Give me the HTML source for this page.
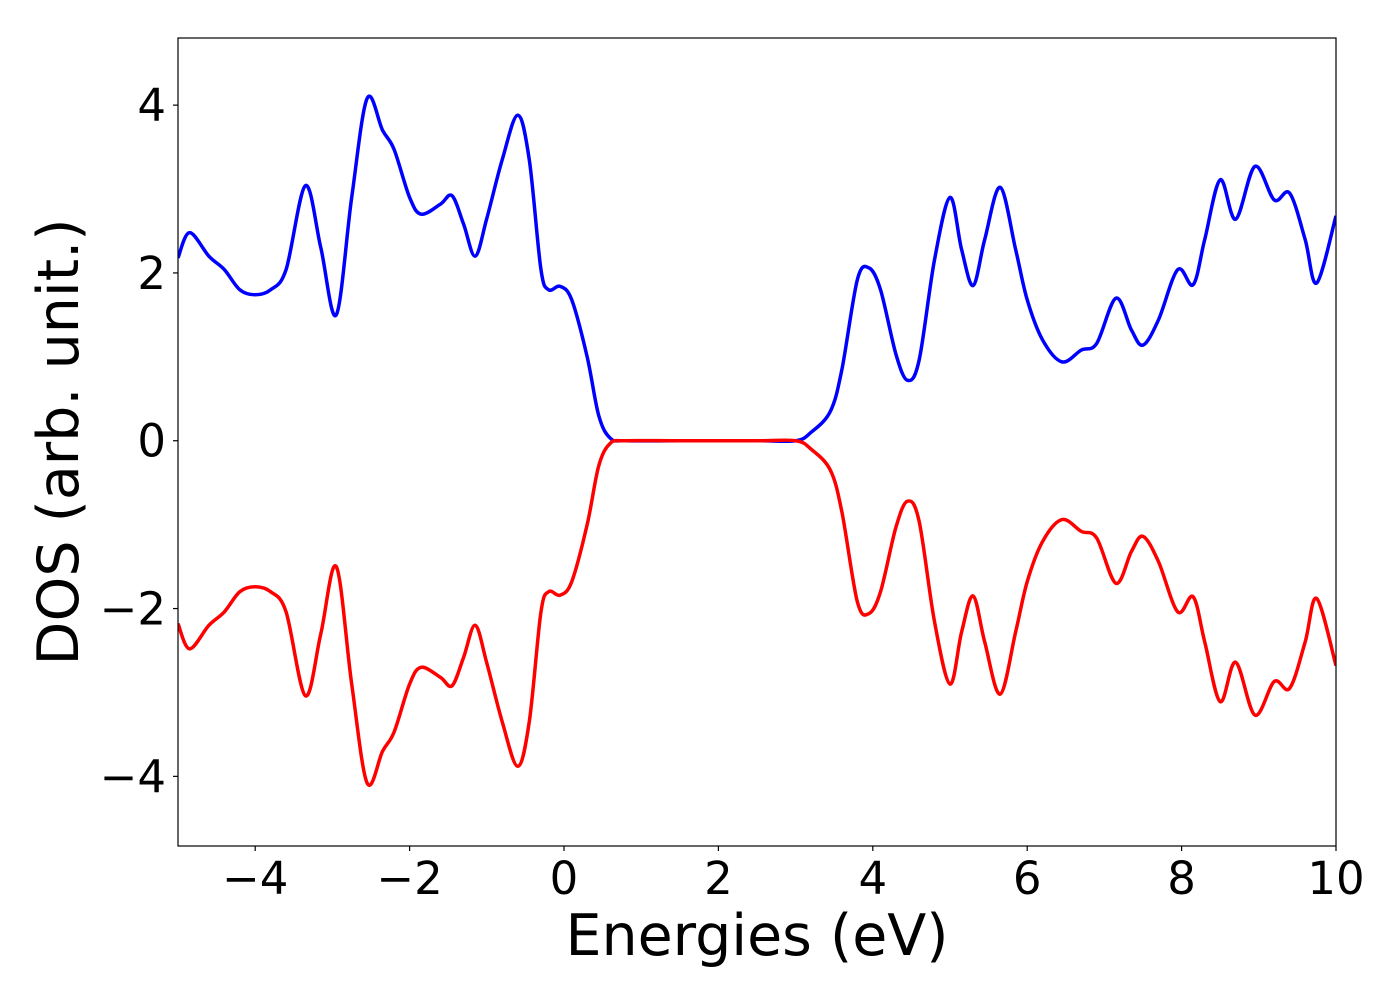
<!DOCTYPE html>
<html><head><meta charset="utf-8"><style>
html,body{margin:0;padding:0;background:#fff;}
svg{display:block;font-family:"DejaVu Sans","Liberation Sans",sans-serif;}
</style></head><body>
<svg id="chart" width="1400" height="1000" viewBox="0 0 1400 1000">
<g id="plot"></g>
<g id="axes"></g>
</svg>
<script>
const energies = [-5,-4.85,-4.6,-4.4,-4.2,-4.0,-3.8,-3.6,-3.35,-3.15,-2.95,-2.75,-2.55,-2.35,-2.2,-2.0,-1.85,-1.6,-1.45,-1.3,-1.15,-1.0,-0.8,-0.6,-0.45,-0.3,-0.2,-0.05,0.1,0.3,0.45,0.6,0.8,1.5,2.5,3.0,3.2,3.45,3.6,3.8,3.95,4.1,4.3,4.45,4.6,4.8,5.0,5.15,5.3,5.45,5.65,5.85,6.0,6.2,6.45,6.7,6.9,7.15,7.35,7.5,7.7,7.95,8.15,8.3,8.5,8.7,8.95,9.2,9.4,9.6,9.75,10];
const spinUp = [2.18,2.48,2.2,2.04,1.8,1.74,1.8,2.04,3.04,2.3,1.5,2.9,4.08,3.7,3.47,2.9,2.7,2.82,2.92,2.58,2.2,2.65,3.35,3.88,3.35,2.05,1.8,1.84,1.68,1.0,0.3,0.03,0,0,0,0,0.1,0.35,0.85,1.92,2.06,1.8,1.03,0.72,0.96,2.16,2.9,2.28,1.85,2.4,3.02,2.28,1.68,1.2,0.94,1.08,1.16,1.7,1.32,1.14,1.44,2.04,1.86,2.4,3.11,2.64,3.27,2.87,2.95,2.4,1.88,2.68];
const spinDown = [-2.18,-2.48,-2.2,-2.04,-1.8,-1.74,-1.8,-2.04,-3.04,-2.3,-1.5,-2.9,-4.08,-3.7,-3.47,-2.9,-2.7,-2.82,-2.92,-2.58,-2.2,-2.65,-3.35,-3.88,-3.35,-2.05,-1.8,-1.84,-1.68,-1.0,-0.3,-0.03,0,0,0,0,-0.1,-0.35,-0.85,-1.92,-2.06,-1.8,-1.03,-0.72,-0.96,-2.16,-2.9,-2.28,-1.85,-2.4,-3.02,-2.28,-1.68,-1.2,-0.94,-1.08,-1.16,-1.7,-1.32,-1.14,-1.44,-2.04,-1.86,-2.4,-3.11,-2.64,-3.27,-2.87,-2.95,-2.4,-1.88,-2.68];
const xTicks = [-4,-2,0,2,4,6,8,10];
const yTicks = [-4,-2,0,2,4];

const L=178,R=1336,T=38,B=846, xmin=-5,xmax=10,ymin=-4.83,ymax=4.8;
const sx=v=>L+(v-xmin)/(xmax-xmin)*(R-L);
const sy=v=>B-(v-ymin)/(ymax-ymin)*(B-T);
const NS="http://www.w3.org/2000/svg";
function mk(t,a,p){const e=document.createElementNS(NS,t);for(const k in a)e.setAttribute(k,a[k]);p.appendChild(e);return e;}
const lab=v=>(v<0?"\u2212":"")+Math.abs(v);
function pathFor(xs,ys){
  const p=xs.map((x,i)=>[sx(x),sy(ys[i])]);
  let d="M"+p[0][0]+","+p[0][1];
  for(let i=0;i<p.length-1;i++){
    const p0=p[Math.max(0,i-1)],p1=p[i],p2=p[i+1],p3=p[Math.min(p.length-1,i+2)];
    const c1=[p1[0]+(p2[0]-p0[0])/6,p1[1]+(p2[1]-p0[1])/6];
    const c2=[p2[0]-(p3[0]-p1[0])/6,p2[1]-(p3[1]-p1[1])/6];
    d+=" C"+c1+" "+c2+" "+p2;
  }
  return d;
}
const plot=document.getElementById('plot'), axes=document.getElementById('axes');
const cp=mk('clipPath',{id:'clip'},plot);mk('rect',{x:L,y:T,width:R-L,height:B-T},cp);
const up=mk('path',{d:pathFor(energies,spinUp),fill:'none',stroke:'#0000ff','stroke-width':3.5,'clip-path':'url(#clip)'},plot);


const dn=mk('path',{d:pathFor(energies,spinDown),fill:'none',stroke:'#ff0000','stroke-width':3.5,'clip-path':'url(#clip)'},plot);


const fr=mk('rect',{x:L,y:T,width:R-L,height:B-T,fill:'none',stroke:'#000','stroke-width':1.2},axes);


xTicks.forEach(v=>{
  const x=sx(v);
  mk('line',{x1:x,x2:x,y1:B,y2:B+5,stroke:'#000','stroke-width':1.2},axes);
  const t=mk('text',{x:x,y:B+48,'text-anchor':'middle','font-size':45},axes);t.textContent=lab(v);
  
  
});
yTicks.forEach(v=>{
  const y=sy(v);
  mk('line',{x1:L-5,x2:L,y1:y,y2:y,stroke:'#000','stroke-width':1.2},axes);
  const t=mk('text',{x:L-12,y:y+16,'text-anchor':'end','font-size':45},axes);t.textContent=lab(v);
  
  
});
const xt=mk('text',{x:(L+R)/2,y:955,'text-anchor':'middle','font-size':57},axes);xt.textContent='Energies (eV)';


const yt=mk('text',{x:0,y:0,'text-anchor':'middle','font-size':57,transform:'translate(78,442) rotate(-90)'},axes);yt.textContent='DOS (arb. unit.)';


</script>
</body></html>
